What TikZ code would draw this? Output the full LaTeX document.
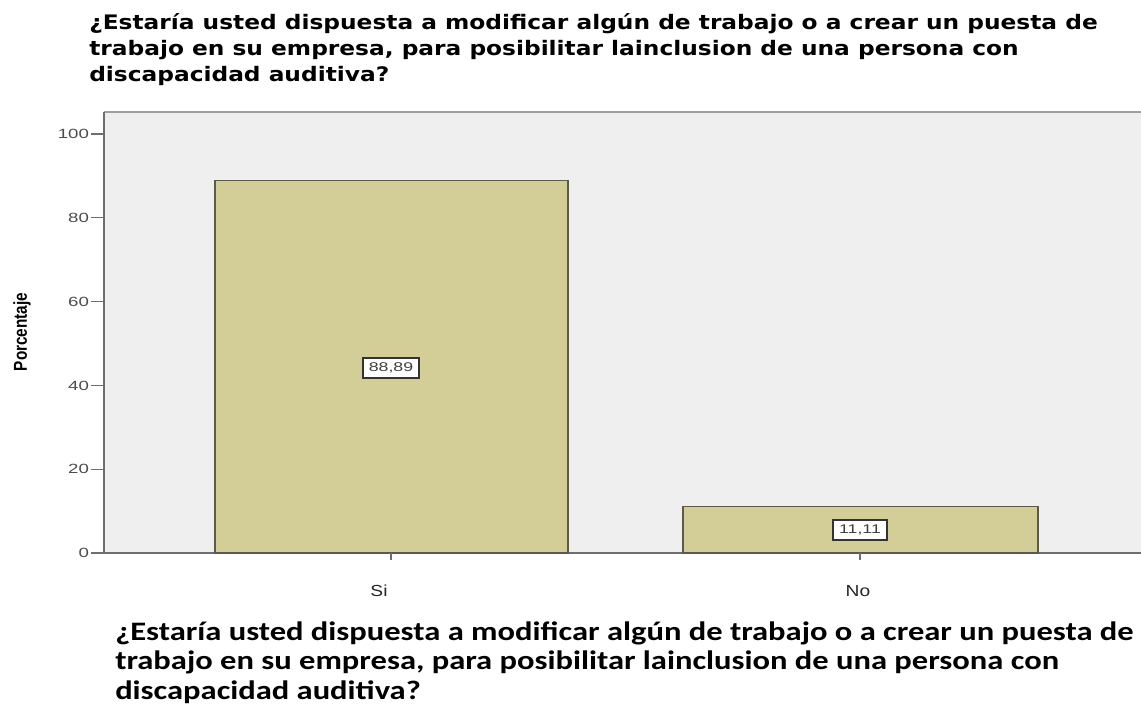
\documentclass[tikz,border=0pt]{standalone}
\usepackage{fontspec}
\setmainfont{DejaVu Sans}
\newfontfamily\titlefont{DejaVu Sans}[FakeStretch=1.165]
\newfontfamily\piefont{Carlito}[FakeStretch=1.22]
\newfontfamily\ticksfont{Liberation Sans}[FakeStretch=1.4]
\newfontfamily\xlabfont{Liberation Sans}[FakeStretch=1.2]
\newfontfamily\ylabfont{Liberation Sans}[FakeStretch=0.82]
\definecolor{fondo}{RGB}{239,239,239}
\definecolor{barra}{RGB}{211,206,152}
\definecolor{borde}{RGB}{90,90,80}
\definecolor{eje}{RGB}{110,110,110}
\tikzset{
  barstyle/.style={fill=barra, draw=borde, line width=1pt},
  valbox/.style={draw=black!80, fill=white, line width=1.1pt, inner xsep=4.5pt, inner ysep=3.5pt,
    text=black!75, font=\ticksfont\fontsize{9.5}{10}\selectfont},
  ticklabel/.style={anchor=east, text=black!70, inner sep=1pt,
    font=\ticksfont\fontsize{10}{11}\selectfont},
  xlabel/.style={text=black!85, font=\xlabfont\fontsize{12}{13}\selectfont}
}
\begin{document}
\begin{tikzpicture}[x=0.75pt,y=-0.75pt]
\useasboundingbox (0,0) rectangle (1141,708);
% titulo
\node[anchor=north west, align=left, inner sep=0,
  font=\titlefont\bfseries\fontsize{15}{19.5}\selectfont] (titulo) at (89,13)
  {¿Estaría usted dispuesta a modificar algún de trabajo o a crear un puesta de\\
   trabajo en su empresa, para posibilitar lainclusion de una persona con\\
   discapacidad auditiva?};
% area del grafico
\fill[fondo] (104,112) rectangle (1150,553);
\draw[gray!75, line width=1.5pt] (104,112)--(1150,112);
\draw[eje, line width=1.5pt] (104,553)--(104,112);
\draw[eje, line width=1.2pt] (104,553)--(1150,553);
% eje y
\foreach \v in {0,20,...,100}
  \draw[eje, line width=1pt] (91,{553-4.19*\v})--(104,{553-4.19*\v})
    node[ticklabel] at (91,{553-4.19*\v}) {\v};
\node[rotate=90, font=\ylabfont\bfseries\fontsize{14}{15}\selectfont] (ylab) at (22,332) {Porcentaje};
% barras
\draw[barstyle] (215,553) rectangle (568,{553-4.19*88.89});
\draw[barstyle] (683,553) rectangle (1038,{553-4.19*11.11});
\node[valbox] (vsi) at (391,368) {88,89};
\node[valbox] (vno) at (860,530) {11,11};
% eje x
\draw[eje, line width=1.2pt] (391,553)--(391,560);
\draw[eje, line width=1.2pt] (860,553)--(860,560);
\node[xlabel] (si) at (379,591) {Si};
\node[xlabel] (no) at (858,591) {No};
% pie
\node[anchor=north west, align=left, inner sep=0,
  font=\piefont\bfseries\fontsize{20}{22.4}\selectfont] (pie) at (115,621)
  {¿Estaría usted dispuesta a modificar algún de trabajo o a crear un puesta de\\
   trabajo en su empresa, para posibilitar lainclusion de una persona con\\
   discapacidad auditiva?};
\end{tikzpicture}
\end{document}
